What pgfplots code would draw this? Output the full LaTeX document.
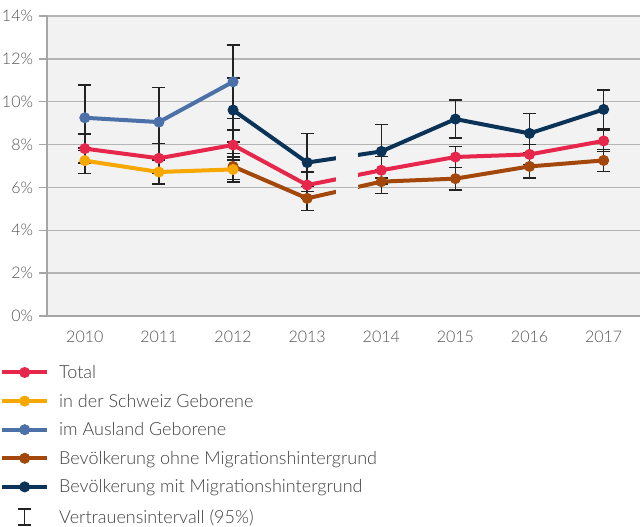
\documentclass[border=0pt]{standalone}
\usepackage{fontspec}
\setmainfont{Lato Light}
\usepackage{pgfplots}
\usepackage{pgfplotstable}
\pgfplotsset{compat=1.18}
\definecolor{cTot}{HTML}{E6264B}
\definecolor{cCH}{HTML}{F7A800}
\definecolor{cAus}{HTML}{4C70A8}
\definecolor{cOhne}{HTML}{A3470A}
\definecolor{cMit}{HTML}{0B3357}
\definecolor{bg}{HTML}{F2F2F2}
\definecolor{gridc}{HTML}{B4B4B4}
\definecolor{axc}{HTML}{A6A6A6}
\definecolor{txt}{HTML}{555555}
\definecolor{legtxt}{HTML}{404040}
\definecolor{errc}{HTML}{222222}

\pgfplotstableread{
x y e
2010 7.81 0.68
2011 7.36 0.70
2012 7.98 0.71
2013 6.11 0.62
2014 6.80 0.65
2015 7.42 0.48
2016 7.54 0.47
2017 8.17 0.50
}\tot
\pgfplotstableread{
x y e
2010 7.25 0.59
2011 6.72 0.56
2012 6.84 0.58
}\ch
\pgfplotstableread{
x y e
2010 9.25 1.52
2011 9.05 1.62
2012 10.93 1.72
}\aus
\pgfplotstableread{
x y e
2012 6.98 0.60
2013 5.49 0.56
2014 6.27 0.55
2015 6.41 0.53
2016 6.98 0.55
2017 7.26 0.52
}\ohne
\pgfplotstableread{
x y e
2012 9.61 1.50
2013 7.16 1.35
2014 7.68 1.25
2015 9.19 0.88
2016 8.52 0.92
2017 9.64 0.90
}\mit

\pgfplotsset{
  ci/.style={draw=none, mark=none, forget plot,
    error bars/.cd, y dir=both, y explicit,
    error bar style={errc, line width=1.5pt},
    error mark=-,
    error mark options={rotate=90, errc, line width=1.5pt, mark size=6.5pt}},
}

\begin{document}
\begin{tikzpicture}
\useasboundingbox (0pt,0pt) rectangle (640pt,527pt);
\begin{axis}[
  at={(47pt,211pt)}, anchor=south west,
  width=593pt, height=300pt, scale only axis,
  xmin=2009.49, xmax=2017.49, ymin=0, ymax=14,
  axis x line*=bottom, axis y line*=left,
  axis line style={axc, line width=2pt},
  axis background/.style={fill=bg},
  ymajorgrids, grid style={gridc, line width=1.5pt},
  ytick={0,2,...,14},
  yticklabel={\pgfmathprintnumber{\tick}\%},
  /pgf/number format/assume math mode=true,
  xtick={2010,2011,2012,2013,2014,2015,2016,2017},
  xticklabels={2010,2011,2012,2013,2014,2015,2016,2017},
  tick align=outside, major tick length=8pt,
  ytick style={axc, line width=1.5pt},
  xtick style={draw=none},
  tick label style={font=\fontsize{16}{19}\selectfont, text=txt},
  yticklabel style={xshift=-2.5pt},
  xticklabel style={yshift=-4pt},
  legend image code/.code={\draw[mark repeat=2,mark phase=2,#1] plot coordinates {(0pt,0pt) (22.5pt,0pt) (45pt,0pt)};},
  legend cell align=left,
  legend style={draw=none, fill=none, at={(-0.07926,-0.1643)}, anchor=north west,
    inner xsep=0pt, inner ysep=0pt, row sep=14.6pt, column sep=10pt,
    nodes={inner sep=0pt, text height=13pt, text depth=1pt},
    font=\fontsize{18}{21}\selectfont, text=legtxt},
  every axis plot/.append style={line width=4pt, mark=*, mark size=5pt, mark options={line width=1pt}},
]
% confidence intervals (drawn below the lines)
\addplot[ci] table[x=x, y=y, y error=e] {\ohne};
\addplot[ci] table[x=x, y=y, y error=e] {\mit};
\addplot[ci] table[x=x, y=y, y error=e] {\ch};
\addplot[ci] table[x=x, y=y, y error=e] {\aus};
\addplot[ci] table[x=x, y=y, y error=e] {\tot};
% series
\addplot[cOhne, forget plot] table[x=x,y=y] {\ohne};
\addplot[cMit, forget plot] table[x=x,y=y] {\mit};
\addplot[cCH, forget plot] table[x=x,y=y] {\ch};
\addplot[cAus, forget plot] table[x=x,y=y] {\aus};
\addplot[cTot, forget plot] table[x=x,y=y] {\tot};
% break in the time series between 2013 and 2014
\fill[bg] (axis cs:2013.39,5.3) rectangle (axis cs:2013.69,7.9);
\draw[gridc, line width=1.5pt] (axis cs:2013.38,6) -- (axis cs:2013.70,6);
% legend
\addlegendimage{cTot}
\addlegendentry{Total}
\addlegendimage{cCH}
\addlegendentry{in der Schweiz Geborene}
\addlegendimage{cAus}
\addlegendentry{im Ausland Geborene}
\addlegendimage{cOhne}
\addlegendentry{Bevölkerung ohne Migrationshintergrund}
\addlegendimage{cMit}
\addlegendentry{Bevölkerung mit Migrationshintergrund}
\addlegendimage{legend image code/.code={\path (0pt,0pt) (45pt,0pt); \draw[errc, line width=1.5pt] (16pt,-8pt)--(29pt,-8pt) (22.5pt,-8pt)--(22.5pt,8pt) (16pt,8pt)--(29pt,8pt);}}
\addlegendentry{Vertrauensintervall (95\%)}
\end{axis}
\end{tikzpicture}
\end{document}
